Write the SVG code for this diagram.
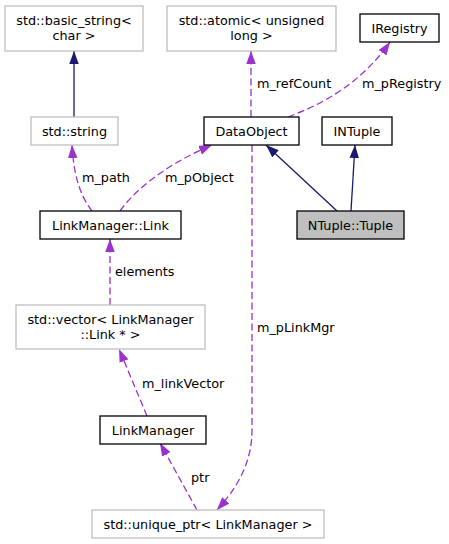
<svg xmlns="http://www.w3.org/2000/svg" width="449" height="544" viewBox="0 0 449 544">
<style>
text{font-family:"DejaVu Sans","Liberation Sans",sans-serif;font-size:12.8px;fill:#000}
.n text{text-anchor:middle}
.ext{fill:#fff;stroke:#bfbfbf;stroke-width:1.3}
.doc{fill:#fff;stroke:#000;stroke-width:1.3}
.cur{fill:#bfbfbf;stroke:#000;stroke-width:1.3}
.inh{fill:none;stroke:#191970;stroke-width:1.3;marker-end:url(#an)}
.use{fill:none;stroke:#9a32cd;stroke-width:1.3;stroke-dasharray:7,3.5;marker-end:url(#ap)}
</style>
<defs>
<marker id="an" markerUnits="userSpaceOnUse" markerWidth="14" markerHeight="10" refX="13" refY="4.75" orient="auto"><path d="M0,0 L13,4.75 L0,9.5 z" fill="#191970"/></marker>
<marker id="ap" markerUnits="userSpaceOnUse" markerWidth="14" markerHeight="10" refX="13" refY="4.75" orient="auto"><path d="M0,0 L13,4.75 L0,9.5 z" fill="#9a32cd"/></marker>
</defs>
<rect width="449" height="544" fill="#fff"/>
<g id="edges">
<path class="inh" d="M74,117 L74,51"/>
<path class="inh" d="M337,211 L266,145"/>
<path class="inh" d="M351,211 L355,145"/>
<path class="use" d="M251,117 L251,51"/>
<path class="use" d="M288,117 C320,105 360,85 390,42"/>
<path class="use" d="M120,211 C135,190 165,165 212,145"/>
<path class="use" d="M92,211 C82,198 74,180 72,145"/>
<path class="use" d="M110,305 L110,239"/>
<path class="use" d="M147,416 L119,349"/>
<path class="use" d="M197,510 L160,443"/>
<path class="use" d="M252,145 L252,430 C252,465 235,490 217,510"/>
<text x="257" y="88">m_refCount</text>
<text x="362" y="88">m_pRegistry</text>
<text x="165" y="182">m_pObject</text>
<text x="82" y="182">m_path</text>
<text x="115" y="276">elements</text>
<text x="142" y="388">m_linkVector</text>
<text x="191" y="482">ptr</text>
<text x="257" y="332">m_pLinkMgr</text>
</g>
<g id="basic_string" class="n"><rect class="ext" x="5" y="6" width="138" height="45"/><text x="74" y="25">std::basic_string&lt;</text><text x="74" y="40">char &gt;</text></g>
<g id="atomic" class="n"><rect class="ext" x="167" y="6" width="169" height="45"/><text x="251.5" y="25">std::atomic&lt; unsigned</text><text x="251.5" y="40">long &gt;</text></g>
<g id="IRegistry" class="n"><rect class="doc" x="360" y="14" width="79" height="28"/><text x="399.5" y="32.5">IRegistry</text></g>
<g id="string" class="n"><rect class="ext" x="31" y="117" width="87" height="28"/><text x="74.5" y="135.5">std::string</text></g>
<g id="DataObject" class="n"><rect class="doc" x="204" y="117" width="95" height="28"/><text x="251.5" y="135.5">DataObject</text></g>
<g id="INTuple" class="n"><rect class="doc" x="322" y="117" width="70" height="28"/><text x="357" y="135.5">INTuple</text></g>
<g id="Tuple" class="n"><rect class="cur" x="297" y="211" width="107" height="28"/><text x="350.5" y="229.5">NTuple::Tuple</text></g>
<g id="Link" class="n"><rect class="doc" x="40" y="211" width="141" height="28"/><text x="110.5" y="229.5">LinkManager::Link</text></g>
<g id="vector" class="n"><rect class="ext" x="16" y="305" width="189" height="44"/><text x="110.5" y="323.5">std::vector&lt; LinkManager</text><text x="110.5" y="338.5">::Link * &gt;</text></g>
<g id="LinkManager" class="n"><rect class="doc" x="100" y="416" width="106" height="28"/><text x="153" y="434.5">LinkManager</text></g>
<g id="unique_ptr" class="n"><rect class="ext" x="92" y="510" width="232" height="28"/><text x="208" y="528.5">std::unique_ptr&lt; LinkManager &gt;</text></g>
</svg>
